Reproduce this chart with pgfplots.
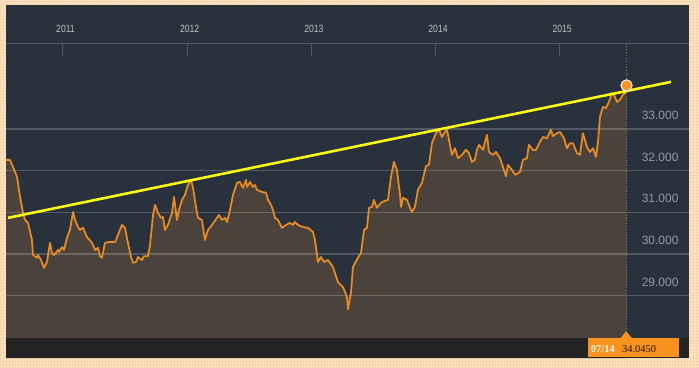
\documentclass[border=0pt]{standalone}
\usepackage{pgfplots}
\pgfplotsset{compat=1.18}
\usepackage{pgfplotstable}
\usepackage{fontspec}
\setmainfont{Liberation Sans}
\newfontfamily\seriffont{Liberation Serif}
\usetikzlibrary{patterns}

\definecolor{peach}{HTML}{FCE4C6}
\definecolor{peachline}{HTML}{F7D6AE}
\definecolor{navy}{HTML}{28313C}
\definecolor{brownfill}{HTML}{4A423B}
\definecolor{orangeline}{HTML}{E58A24}
\definecolor{bandcol}{HTML}{232323}
\definecolor{ylab}{HTML}{959BA2}
\definecolor{xlab}{HTML}{BFC3C7}
\definecolor{boxorange}{HTML}{F7931E}
\definecolor{yellowline}{HTML}{FAFA14}
\definecolor{dotcol}{HTML}{9A7A52}
\definecolor{sepcol}{HTML}{4E5762}

\pgfplotstableread{
x y
2010.533 32.26
2010.573 32.26
2010.597 32.09
2010.630 31.85
2010.654 31.37
2010.678 30.99
2010.694 30.82
2010.718 30.75
2010.750 30.34
2010.758 29.98
2010.791 29.91
2010.799 29.98
2010.823 29.86
2010.847 29.67
2010.871 29.81
2010.895 30.27
2010.911 30.03
2010.928 29.98
2010.960 30.10
2010.968 30.05
2010.992 30.17
2011.008 30.10
2011.032 30.39
2011.056 30.58
2011.081 31.01
2011.097 30.82
2011.121 30.65
2011.137 30.58
2011.161 30.63
2011.193 30.41
2011.234 30.27
2011.258 30.10
2011.282 30.15
2011.298 29.95
2011.314 29.91
2011.338 30.27
2011.370 30.29
2011.419 30.29
2011.459 30.58
2011.475 30.70
2011.499 30.63
2011.523 30.27
2011.548 29.93
2011.564 29.79
2011.588 29.81
2011.604 29.93
2011.636 29.86
2011.652 29.95
2011.684 29.95
2011.701 30.22
2011.725 30.94
2011.741 31.18
2011.765 30.99
2011.789 30.87
2011.805 30.89
2011.821 30.58
2011.845 30.70
2011.878 30.99
2011.894 31.37
2011.918 30.82
2011.934 31.06
2011.958 31.30
2011.982 31.42
2012.006 31.66
2012.031 31.78
2012.047 31.59
2012.071 31.13
2012.087 30.87
2012.119 30.82
2012.143 30.34
2012.168 30.58
2012.200 30.70
2012.240 30.87
2012.256 30.94
2012.280 30.82
2012.304 30.87
2012.321 30.77
2012.345 31.06
2012.369 31.42
2012.401 31.71
2012.425 31.73
2012.449 31.59
2012.474 31.78
2012.482 31.61
2012.506 31.73
2012.530 31.61
2012.546 31.66
2012.562 31.54
2012.602 31.49
2012.635 31.47
2012.651 31.30
2012.675 31.18
2012.691 31.06
2012.707 30.87
2012.731 30.82
2012.763 30.63
2012.796 30.70
2012.828 30.75
2012.852 30.70
2012.868 30.77
2012.892 30.70
2012.932 30.65
2012.973 30.63
2013.013 30.53
2013.029 30.34
2013.053 29.81
2013.077 29.93
2013.102 29.81
2013.134 29.86
2013.174 29.69
2013.214 29.33
2013.255 29.21
2013.287 28.97
2013.295 28.68
2013.319 29.07
2013.335 29.69
2013.375 29.91
2013.400 30.03
2013.424 30.58
2013.448 30.63
2013.464 31.11
2013.488 31.13
2013.504 31.30
2013.528 31.11
2013.561 31.23
2013.585 31.27
2013.617 31.30
2013.641 31.85
2013.665 32.21
2013.689 32.02
2013.714 31.42
2013.722 31.13
2013.738 31.35
2013.770 31.30
2013.786 31.18
2013.810 31.01
2013.834 31.13
2013.858 31.54
2013.891 31.71
2013.923 32.11
2013.947 32.14
2013.971 32.66
2014.003 32.90
2014.028 32.98
2014.052 32.81
2014.076 32.93
2014.092 32.98
2014.132 32.38
2014.156 32.54
2014.181 32.30
2014.213 32.38
2014.245 32.50
2014.269 32.42
2014.293 32.21
2014.317 32.26
2014.333 32.50
2014.350 32.62
2014.382 32.50
2014.414 32.86
2014.430 32.45
2014.462 32.38
2014.487 32.45
2014.519 32.30
2014.543 32.09
2014.567 31.87
2014.583 32.14
2014.615 32.02
2014.640 31.90
2014.680 31.97
2014.704 32.26
2014.736 32.30
2014.752 32.62
2014.785 32.50
2014.809 32.50
2014.841 32.69
2014.865 32.81
2014.897 32.78
2014.929 32.98
2014.945 32.83
2014.978 32.90
2015.002 32.93
2015.034 32.78
2015.058 32.54
2015.082 32.66
2015.107 32.66
2015.139 32.42
2015.163 32.38
2015.187 32.90
2015.219 32.57
2015.243 32.45
2015.268 32.54
2015.292 32.33
2015.308 32.69
2015.324 33.29
2015.348 33.53
2015.372 33.50
2015.396 33.65
2015.421 33.86
2015.437 33.82
2015.461 33.65
2015.485 33.70
2015.509 33.82
2015.525 33.86
2015.538 34.045
}\thb

\newcommand{\yr}[1]{\scalebox{0.82}[1]{\fontsize{10.5}{11}\selectfont #1}}

\begin{document}
\begin{tikzpicture}
\path[use as bounding box] (0,0) rectangle (699pt,367pt);
\fill[peach] (0,0) rectangle (699pt,367pt);
\fill[pattern=grid, pattern color=peachline] (0,0) rectangle (699pt,367pt);
\begin{axis}[
  at={(6pt,9pt)}, anchor=south west,
  width=683pt, height=353pt, scale only axis,
  xmin=2010.541, xmax=2016.041,
  ymin=27.509, ymax=35.974,
  xtick=\empty, ytick=\empty,
  axis line style={draw=none},
  axis background/.style={fill=navy},
]
% area under the series
\addplot[draw=none, fill=brownfill] table[x=x,y=y] {\thb} \closedcycle;
% horizontal grid lines
\draw[white, opacity=0.2, line width=1.3pt] (axis cs:2010.541,29) -- (axis cs:2016.041,29);
\draw[white, opacity=0.2, line width=1.3pt] (axis cs:2010.541,30) -- (axis cs:2016.041,30);
\draw[white, opacity=0.2, line width=1.3pt] (axis cs:2010.541,31) -- (axis cs:2016.041,31);
\draw[white, opacity=0.2, line width=1.3pt] (axis cs:2010.541,32) -- (axis cs:2016.041,32);
\draw[white, opacity=0.2, line width=1.3pt] (axis cs:2010.541,33) -- (axis cs:2016.041,33);
% top band separator and year ticks
\draw[sepcol, line width=1.5pt] (axis cs:2010.541,35.05) -- (axis cs:2016.041,35.05);
\draw[sepcol, line width=1pt] (axis cs:2011,35.05) -- (axis cs:2011,34.74);
\draw[sepcol, line width=1pt] (axis cs:2012,35.05) -- (axis cs:2012,34.74);
\draw[sepcol, line width=1pt] (axis cs:2013,35.05) -- (axis cs:2013,34.74);
\draw[sepcol, line width=1pt] (axis cs:2014,35.05) -- (axis cs:2014,34.74);
\draw[sepcol, line width=1pt] (axis cs:2015,35.05) -- (axis cs:2015,34.74);
\node[xlab] at (axis cs:2011.02,35.40) {\yr{2011}};
\node[xlab] at (axis cs:2012.02,35.40) {\yr{2012}};
\node[xlab] at (axis cs:2013.02,35.40) {\yr{2013}};
\node[xlab] at (axis cs:2014.02,35.40) {\yr{2014}};
\node[xlab] at (axis cs:2015.02,35.40) {\yr{2015}};
% dotted current-date line
\draw[dotcol, dotted, line width=0.9pt] (axis cs:2015.535,35.05) -- (axis cs:2015.535,28.0);
% y labels (right side)
\node[ylab, anchor=base east, xshift=-7pt, yshift=9.5pt, font=\fontsize{12}{12}\selectfont] at (axis cs:2016.041,33) {33.000};
\node[ylab, anchor=base east, xshift=-7pt, yshift=9.5pt, font=\fontsize{12}{12}\selectfont] at (axis cs:2016.041,32) {32.000};
\node[ylab, anchor=base east, xshift=-7pt, yshift=9.5pt, font=\fontsize{12}{12}\selectfont] at (axis cs:2016.041,31) {31.000};
\node[ylab, anchor=base east, xshift=-7pt, yshift=9.5pt, font=\fontsize{12}{12}\selectfont] at (axis cs:2016.041,30) {30.000};
\node[ylab, anchor=base east, xshift=-7pt, yshift=9.5pt, font=\fontsize{12}{12}\selectfont] at (axis cs:2016.041,29) {29.000};
% series line
\addplot[orangeline, line width=1.8pt, line join=round] table[x=x,y=y] {\thb};
% trend line
\addplot[yellowline, line width=2.6pt] coordinates {(2010.557,30.87) (2015.896,34.13)};
% last value marker
\addplot[only marks, mark=*, mark size=5.6pt, mark options={fill=boxorange, draw=white!90!orange, line width=1.1pt}] coordinates {(2015.538,34.045)};
% bottom band
\fill[bandcol] (axis cs:2010.541,27.509) rectangle (axis cs:2016.041,28.0);
% value box
\fill[boxorange] (axis cs:2015.227,27.53) rectangle (axis cs:2015.960,28.0);
\fill[boxorange] (axis cs:2015.535,28.15) -- (axis cs:2015.580,27.99) -- (axis cs:2015.490,27.99) -- cycle;
\node[anchor=base west, text=white!92!orange, font=\seriffont\bfseries\fontsize{10.5}{11}\selectfont, inner sep=0pt] at (axis cs:2015.250,27.635) {07/14};
\node[anchor=base west, text=black!85!orange, font=\seriffont\fontsize{10.5}{11}\selectfont, inner sep=0pt] at (axis cs:2015.500,27.635) {34.0450};
\end{axis}
\end{tikzpicture}
\end{document}
